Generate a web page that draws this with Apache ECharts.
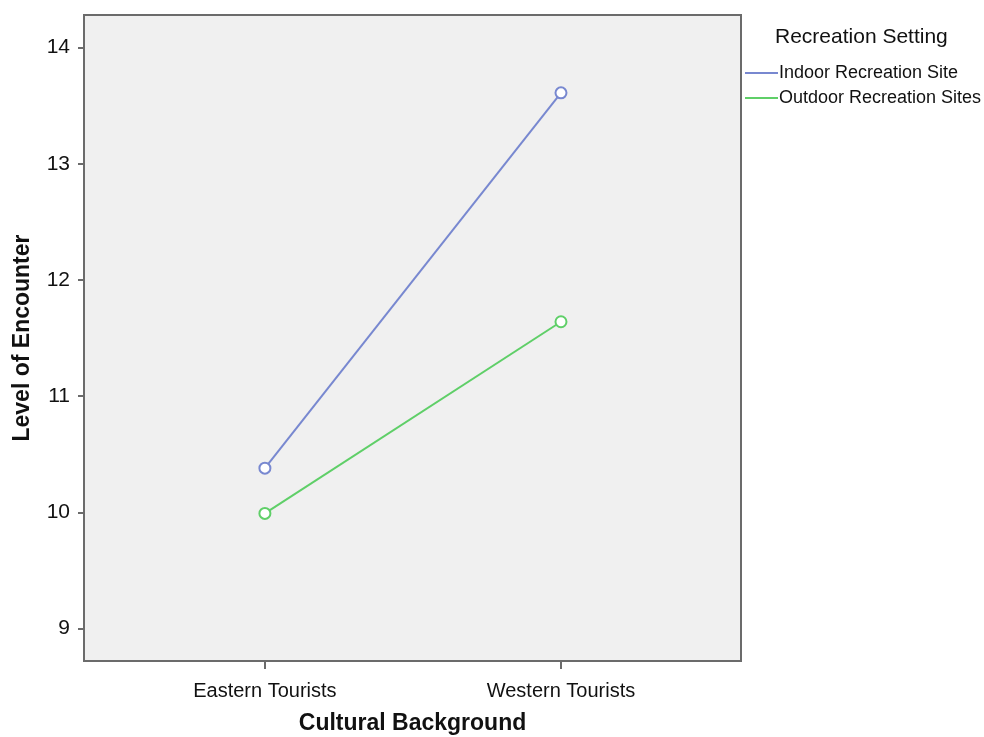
<!DOCTYPE html>
<html>
<head>
<meta charset="utf-8">
<script src="https://cdn.jsdelivr.net/npm/echarts@6/dist/echarts.min.js"></script>
<style>html,body{margin:0;padding:0;background:#fff;}#c{width:984px;height:737px;}</style>
</head>
<body>
<div id="c"></div>
<script>
var categories = ['Eastern Tourists', 'Western Tourists'];
var indoor = [10.38, 13.61];
var outdoor = [9.99, 11.64];
var yTicks = [9, 10, 11, 12, 13, 14];
var seriesNames = ['Indoor Recreation Site', 'Outdoor Recreation Sites'];

var chart = echarts.init(document.getElementById('c'));
var font = 'Liberation Sans, Arial, sans-serif';
function pts(arr){ return arr.map(function(v,i){ return [i, v]; }); }
chart.setOption({
  backgroundColor: '#ffffff',
  animation: false,
  textStyle: {fontFamily: font},
  grid: {left: 84, top: 15, right: 243, bottom: 76, outerBoundsMode: 'none', containLabel: false, show: true, backgroundColor: '#f0f0f0', borderColor: '#6b6b6b', borderWidth: 2},
  title: {text: 'Recreation Setting', left: 770, top: 22, textStyle: {fontFamily: font, fontSize: 21, fontWeight: 'normal', color: '#111'}},
  legend: {
    orient: 'vertical', left: 740, top: 59, itemGap: 7, itemWidth: 33, itemHeight: 2, icon: 'rect',
    data: seriesNames,
    textStyle: {fontFamily: font, fontSize: 18, color: '#111', padding: [0,0,0,-4]}
  },
  xAxis: {
    type: 'value', min: -0.611, max: 1.608,
    name: 'Cultural Background', nameLocation: 'middle', nameGap: 51,
    nameTextStyle: {fontFamily: font, fontSize: 23, fontWeight: 'bold', color: '#111'},
    axisLine: {show: true, onZero: false, lineStyle: {color: '#6b6b6b', width: 2}},
    axisTick: {show: true, length: 8, lineStyle: {color: '#6b6b6b', width: 2}, customValues: [0, 1]},
    axisLabel: {customValues: [0, 1], fontSize: 20, color: '#111', margin: 20, formatter: function(v){ return categories[Math.round(v)]; }},
    splitLine: {show: false}
  },
  yAxis: {
    type: 'value', min: 8.72, max: 14.28,
    name: 'Level of Encounter', nameLocation: 'middle', nameGap: 50, nameRotate: 90,
    nameTextStyle: {fontFamily: font, fontSize: 23, fontWeight: 'bold', color: '#111'},
    axisLine: {show: true, onZero: false, lineStyle: {color: '#6b6b6b', width: 2}},
    axisTick: {show: true, length: 6, lineStyle: {color: '#6b6b6b', width: 2}, customValues: yTicks},
    axisLabel: {customValues: yTicks, fontSize: 21, color: '#111', margin: 14},
    splitLine: {show: false}
  },
  series: [
    {name: seriesNames[0], type: 'line', data: pts(indoor), symbol: 'emptyCircle', symbolSize: 11,
     color: '#7888d0', lineStyle: {width: 2, color: '#7888d0'}, itemStyle: {color: '#7888d0', borderWidth: 1.5}},
    {name: seriesNames[1], type: 'line', data: pts(outdoor), symbol: 'emptyCircle', symbolSize: 11,
     color: '#5fcf68', lineStyle: {width: 2, color: '#5fcf68'}, itemStyle: {color: '#5fcf68', borderWidth: 1.5}}
  ]
});
</script>
</body>
</html>
